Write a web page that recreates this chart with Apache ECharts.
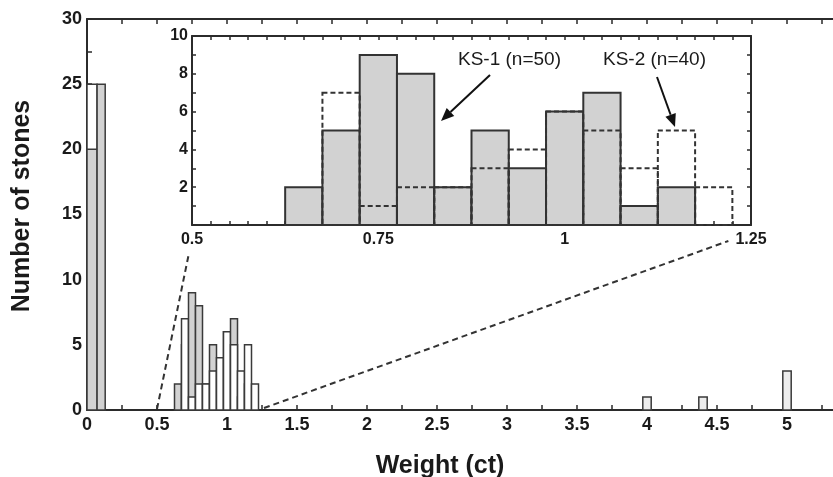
<!DOCTYPE html>
<html><head><meta charset="utf-8">
<script src="https://cdn.jsdelivr.net/npm/echarts@6/dist/echarts.min.js"></script>
<style>html,body{margin:0;padding:0;background:#fff}#c{width:833px;height:477px}</style>
</head><body><div id="c"></div>
<script>
// ---- data ----
const binStarts = [0.625,0.675,0.725,0.775,0.825,0.875,0.925,0.975,1.025,1.075,1.125,1.175];
const binWidth = 0.05;
const ks1Counts = [2,5,9,8,2,5,3,6,7,1,2,0];   // KS-1 (n=50)
const ks2Counts = [0,7,1,2,2,3,4,6,5,3,5,2];   // KS-2 (n=40)
const smallStart = [0, 0.072];
const smallEnd   = [0.072, 0.13];
const smallGray  = [20, 25];
const smallOpen  = [25, 0];
const largeStart = [3.97, 4.37, 4.97];
const largeEnd   = [4.03, 4.43, 5.03];
const largeCounts = [1, 1, 3];
const mainX = {min: 0, max: 5.5, interval: 0.5};
const mainY = {min: 0, max: 30, interval: 5};
const insetX = {min: 0.5, max: 1.25, interval: 0.25};
const insetY = {min: 0, max: 10, interval: 2};
const labels = {ks1: 'KS-1 (n=50)', ks2: 'KS-2 (n=40)', xTitle: 'Weight (ct)', yTitle: 'Number of stones'};

const FONT = '"Liberation Sans", Arial, Helvetica, sans-serif';
const DARK = '#2b2b2b';
const GRAY = '#d2d2d2';
const chart = echarts.init(document.getElementById('c'), null, {renderer: 'canvas'});

function rectFor(api, x0, x1, v) {
  const a = api.coord([x0, 0]), b = api.coord([x1, v]);
  return {x: a[0], y: b[1], width: b[0] - a[0], height: a[1] - b[1]};
}
function axisCommon(o) {
  return Object.assign({
    type: 'value',
    axisLine: {show: true, onZero: false, lineStyle: {color: DARK, width: 2}},
    axisTick: {show: true, inside: true, length: 5, lineStyle: {color: DARK, width: 1.5}},
    minorTick: {show: true, splitNumber: 2, length: 5, lineStyle: {color: DARK, width: 1.5}},
    splitLine: {show: false}, minorSplitLine: {show: false},
    axisLabel: {color: '#1a1a1a', fontFamily: FONT, fontWeight: 'bold', fontSize: 18}
  }, o);
}

const option = {
  animation: false,
  backgroundColor: '#fff',
  grid: [
    {left: 87, top: 19, right: -24, bottom: 67, containLabel: false, outerBoundsMode: 'none'},
    {left: 192, top: 36, right: 82, bottom: 252, containLabel: false, outerBoundsMode: 'none',
     show: true, backgroundColor: '#fff', borderWidth: 0}
  ],
  xAxis: [
    axisCommon(Object.assign({gridIndex: 0, position: 'bottom'}, mainX,
      {axisLabel: {color: '#1a1a1a', fontFamily: FONT, fontWeight: 'bold', fontSize: 18, margin: 6, showMaxLabel: false}})),
    axisCommon(Object.assign({gridIndex: 0, position: 'top'}, mainX, {axisLabel: {show: false}})),
    axisCommon(Object.assign({gridIndex: 1, position: 'bottom'}, insetX, {
      minorTick: {show: true, splitNumber: 10, length: 4, lineStyle: {color: DARK, width: 1.5}},
      axisTick: {show: true, inside: true, length: 4, lineStyle: {color: DARK, width: 1.5}},
      axisLabel: {color: '#1a1a1a', fontFamily: FONT, fontWeight: 'bold', fontSize: 16, margin: 7}})),
    axisCommon(Object.assign({gridIndex: 1, position: 'top'}, insetX, {
      minorTick: {show: true, splitNumber: 10, length: 4, lineStyle: {color: DARK, width: 1.5}},
      axisTick: {show: true, inside: true, length: 4, lineStyle: {color: DARK, width: 1.5}},
      axisLabel: {show: false}}))
  ],
  yAxis: [
    axisCommon(Object.assign({gridIndex: 0, position: 'left'}, mainY,
      {axisLabel: {color: '#1a1a1a', fontFamily: FONT, fontWeight: 'bold', fontSize: 18, margin: 5}})),
    axisCommon(Object.assign({gridIndex: 1, position: 'left'}, insetY, {
      axisTick: {show: true, inside: true, length: 4, lineStyle: {color: DARK, width: 1.5}},
      minorTick: {show: true, splitNumber: 2, length: 4, lineStyle: {color: DARK, width: 1.5}},
      axisLabel: {color: '#1a1a1a', fontFamily: FONT, fontWeight: 'bold', fontSize: 16, margin: 4, showMinLabel: false}})),
    axisCommon(Object.assign({gridIndex: 1, position: 'right'}, insetY, {
      axisTick: {show: true, inside: true, length: 4, lineStyle: {color: DARK, width: 1.5}},
      minorTick: {show: true, splitNumber: 2, length: 4, lineStyle: {color: DARK, width: 1.5}},
      axisLabel: {show: false}}))
  ],
  series: [
    { // main chart, small stones
      type: 'custom', xAxisIndex: 0, yAxisIndex: 0, z: 3,
      data: smallStart.map((s, i) => [s, smallEnd[i], smallGray[i], smallOpen[i]]),
      renderItem: function (params, api) {
        const x0 = api.value(0), x1 = api.value(1), g = api.value(2), o = api.value(3);
        const ch = [];
        if (o > 0) ch.push({type: 'rect', shape: rectFor(api, x0, x1, o), style: {fill: '#fff', stroke: '#3a3a3a', lineWidth: 1.5}});
        if (g > 0) ch.push({type: 'rect', shape: rectFor(api, x0, x1, g), style: {fill: GRAY, stroke: '#3a3a3a', lineWidth: 1.5}});
        return {type: 'group', children: ch};
      }
    },
    { // main chart, KS-1 (gray) and KS-2 (white) overlaid
      type: 'custom', xAxisIndex: 0, yAxisIndex: 0, z: 3,
      data: binStarts.map((s, i) => [s, s + binWidth, ks1Counts[i], ks2Counts[i]]),
      renderItem: function (params, api) {
        const x0 = api.value(0), x1 = api.value(1), a = api.value(2), b = api.value(3);
        const ch = [];
        if (a > 0) ch.push({type: 'rect', shape: rectFor(api, x0, x1, a), style: {fill: GRAY, stroke: '#3a3a3a', lineWidth: 1.5}});
        if (b > 0) ch.push({type: 'rect', shape: rectFor(api, x0, x1, b), style: {fill: '#fff', stroke: '#3a3a3a', lineWidth: 1.5}});
        return {type: 'group', children: ch};
      }
    },
    { // main chart, large stones
      type: 'custom', xAxisIndex: 0, yAxisIndex: 0, z: 3,
      data: largeStart.map((s, i) => [s, largeEnd[i], largeCounts[i]]),
      renderItem: function (params, api) {
        return {type: 'rect', shape: rectFor(api, api.value(0), api.value(1), api.value(2)),
          style: {fill: '#ececec', stroke: '#3a3a3a', lineWidth: 1.5}};
      }
    },
    { // inset KS-1
      type: 'custom', xAxisIndex: 2, yAxisIndex: 1, z: 5,
      data: binStarts.map((s, i) => [s, s + binWidth, ks1Counts[i]]),
      renderItem: function (params, api) {
        if (api.value(2) <= 0) return null;
        return {type: 'rect', shape: rectFor(api, api.value(0), api.value(1), api.value(2)),
          style: {fill: GRAY, stroke: '#333', lineWidth: 2}};
      }
    },
    { // inset KS-2
      type: 'custom', xAxisIndex: 2, yAxisIndex: 1, z: 6,
      data: binStarts.map((s, i) => [s, s + binWidth, ks2Counts[i]]),
      renderItem: function (params, api) {
        if (api.value(2) <= 0) return null;
        return {type: 'rect', shape: rectFor(api, api.value(0), api.value(1), api.value(2)),
          style: {fill: 'none', stroke: '#333', lineWidth: 2, lineDash: [5, 3]}};
      }
    }
  ]
};
chart.setOption(option);

// connector lines & annotations
const p05 = chart.convertToPixel({xAxisIndex: 0, yAxisIndex: 0}, [0.5, 0]);
const p125 = chart.convertToPixel({xAxisIndex: 0, yAxisIndex: 0}, [1.25, 0]);
const i05 = chart.convertToPixel({xAxisIndex: 2, yAxisIndex: 1}, [0.5, 0]);
const i122 = chart.convertToPixel({xAxisIndex: 2, yAxisIndex: 1}, [1.225, 0]);
function arrow(x1, y1, x2, y2) {
  const ang = Math.atan2(y2 - y1, x2 - x1), L = 13, W = 5.5;
  const bx = x2 - L * Math.cos(ang), by = y2 - L * Math.sin(ang);
  const nx = -Math.sin(ang), ny = Math.cos(ang);
  return [
    {type: 'line', shape: {x1: x1, y1: y1, x2: bx, y2: by}, style: {stroke: '#111', lineWidth: 2}, z: 20},
    {type: 'polygon', shape: {points: [[x2, y2], [bx + nx * W, by + ny * W], [bx - nx * W, by - ny * W]]}, style: {fill: '#111'}, z: 20}
  ];
}
chart.setOption({
  graphic: [
    {type: 'line', shape: {x1: p05[0], y1: p05[1] - 1, x2: i05[0] - 3, y2: i05[1] + 28}, style: {stroke: '#333', lineWidth: 2, lineDash: [6, 4]}, z: 1},
    {type: 'line', shape: {x1: p125[0] + 2, y1: p125[1] - 2, x2: i122[0] - 4, y2: i122[1] + 16}, style: {stroke: '#333', lineWidth: 2, lineDash: [6, 4]}, z: 1},
    {type: 'text', x: 458, y: 60, style: {text: labels.ks1, font: '19px ' + FONT, fill: '#1a1a1a', textVerticalAlign: 'middle'}, z: 20},
    {type: 'text', x: 603, y: 60, style: {text: labels.ks2, font: '19px ' + FONT, fill: '#1a1a1a', textVerticalAlign: 'middle'}, z: 20},
    ...arrow(490, 75, 441, 121),
    ...arrow(657, 77, 675, 127),
    {type: 'text', x: 22, y: 206, rotation: Math.PI / 2,
     style: {text: labels.yTitle, font: 'bold 25px ' + FONT, fill: '#1a1a1a', textAlign: 'center', textVerticalAlign: 'middle'}, z: 20},
    {type: 'text', x: 440, y: 466,
     style: {text: labels.xTitle, font: 'bold 25px ' + FONT, fill: '#1a1a1a', textAlign: 'center', textVerticalAlign: 'middle'}, z: 20}
  ]
});
</script>
</body></html>
